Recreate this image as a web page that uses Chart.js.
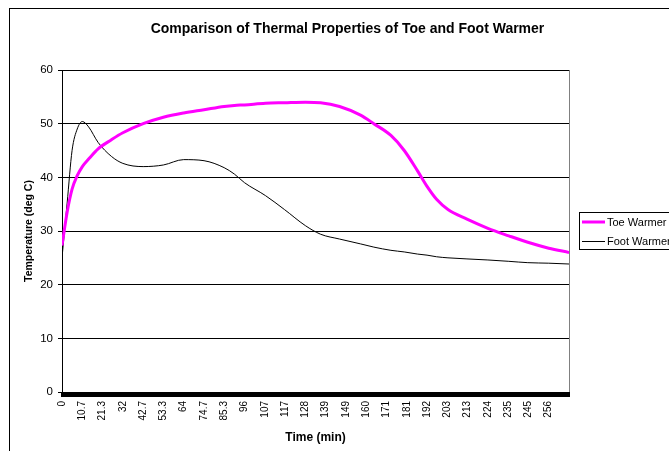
<!DOCTYPE html>
<html>
<head>
<meta charset="utf-8">
<script src="https://cdn.jsdelivr.net/npm/chart.js@4.4.1/dist/chart.umd.min.js"></script>
<style>
  html, body { margin: 0; padding: 0; background: #fff; overflow: hidden; width: 669px; height: 451px; }
  canvas { display: block; }
</style>
</head>
<body>
<canvas id="chart" width="695" height="451" style="width:695px;height:451px"></canvas>
<script>
/* ===== data ===== */
const timeMin = [0, 2.7, 5.3, 8, 10.7, 14, 19, 26, 32, 42.7, 53.3, 64, 74.7, 85.3, 90.7, 96, 107, 117, 128, 136,
    146, 157, 164, 173, 180, 187, 192, 197, 203, 213, 224, 235, 245, 256, 266.7];
const toeWarmer = [27.3, 33.5, 37.8, 40.3, 42.0, 43.4, 45.3, 47.0, 48.3, 50.0, 51.2, 52.0, 52.6, 53.2, 53.4, 53.5, 53.8, 53.9, 54.0, 53.9,
    53.2, 51.6, 50.0, 47.8, 45.0, 41.2, 38.3, 35.9, 34.0, 32.2, 30.5, 29.1, 27.9, 26.8, 26.0];
const footWarmer = [25.0, 35.2, 45.0, 49.0, 50.4, 49.4, 46.5, 43.9, 42.6, 42.0, 42.3, 43.3, 43.1, 41.8, 40.6, 39.0, 36.6, 34.0, 31.0, 29.4,
    28.5, 27.6, 27.0, 26.4, 26.1, 25.7, 25.5, 25.2, 25.0, 24.8, 24.6, 24.35, 24.1, 24.0, 23.85];
const seriesNames = ['Toe Warmer', 'Foot Warmer'];
const seriesColors = ['#ff00ff', '#000000'];
const yTicks = [0, 10, 20, 30, 40, 50, 60];

const sampleStep = 2 / 3;      // minutes between logged samples (category ticks)
const sampleCount = 401;
const labelEvery = 16;         // Excel shows every 16th category label
const lastLabelIndex = 384;

const FONT = "Arial, 'Liberation Sans', sans-serif";

function toPoints(ys) { return timeMin.map((t, i) => ({ x: t, y: ys[i] })); }

const chartFrame = {
    id: 'chartFrame',
    beforeDraw(chart) {
        const { ctx, chartArea: a } = chart;
        ctx.save();
        ctx.fillStyle = '#fff';
        ctx.fillRect(0, 0, chart.width, chart.height);
        ctx.strokeStyle = '#000'; ctx.lineWidth = 1;
        ctx.strokeRect(9.5, 8.5, chart.width + 20, chart.height + 20);
        ctx.strokeStyle = '#808080';
        const rx = Math.round(a.right) + 0.5;
        ctx.beginPath(); ctx.moveTo(rx, a.top); ctx.lineTo(rx, a.bottom); ctx.stroke();
        ctx.restore();
    },
    afterDraw(chart) {
        const { ctx } = chart;
        const bx = 579.5, by = 212.5;
        ctx.save();
        ctx.strokeStyle = '#000'; ctx.lineWidth = 1;
        ctx.strokeRect(bx, by, 110, 37);
        ctx.font = '11px ' + FONT;
        ctx.textBaseline = 'middle';
        ctx.fillStyle = '#000';
        chart.data.datasets.forEach((ds, i) => {
            const y = 222 + i * 19.5;
            ctx.strokeStyle = ds.borderColor; ctx.lineWidth = ds.borderWidth;
            ctx.beginPath(); ctx.moveTo(582, y); ctx.lineTo(605, y); ctx.stroke();
            ctx.fillText(ds.label, 607, y + 0.5);
        });
        ctx.restore();
    }
};

new Chart(document.getElementById('chart'), {
    type: 'line',
    data: {
        datasets: [
            { label: seriesNames[0], data: toPoints(toeWarmer), borderColor: seriesColors[0], borderWidth: 3, pointRadius: 0, cubicInterpolationMode: 'monotone', fill: false },
            { label: seriesNames[1], data: toPoints(footWarmer), borderColor: seriesColors[1], borderWidth: 1, pointRadius: 0, cubicInterpolationMode: 'monotone', fill: false }
        ]
    },
    options: {
        responsive: false, animation: false, devicePixelRatio: 1,
        layout: { padding: 0 },
        plugins: {
            legend: { display: false },
            tooltip: { enabled: false },
            title: {
                display: true, text: 'Comparison of Thermal Properties of Toe and Foot Warmer',
                color: '#000', font: { family: FONT, size: 14, weight: 'bold', lineHeight: 1.2 },
                padding: { top: 21, bottom: 32.2 }
            }
        },
        scales: {
            x: {
                type: 'linear', min: 0, max: (sampleCount - 1) * sampleStep,
                afterBuildTicks: (scale) => {
                    const ticks = [];
                    for (let i = 0; i < sampleCount; i++) ticks.push({ value: i * sampleStep });
                    scale.ticks = ticks;
                },
                afterFit: (scale) => { scale.height = 59; },
                ticks: {
                    autoSkip: false, maxRotation: 90, minRotation: 90, padding: 4,
                    color: '#000', font: { family: FONT, size: 10 },
                    callback: (v, i) => (i % labelEvery === 0 && i <= lastLabelIndex) ? String(Number(v.toPrecision(3))) : ''
                },
                grid: { drawOnChartArea: false, drawTicks: true, tickLength: 5, color: '#000', lineWidth: 2 },
                border: { color: '#000', width: 1 },
                title: { display: true, text: 'Time (min)', color: '#000', font: { family: FONT, size: 12, weight: 'bold', lineHeight: 1.2 }, padding: { top: 0, bottom: 6 } }
            },
            y: {
                min: 0, max: 60,
                afterBuildTicks: (scale) => { scale.ticks = yTicks.map(v => ({ value: v })); },
                afterFit: (scale) => { scale.width = 62; },
                ticks: { color: '#000', padding: 5, font: { family: FONT, size: 11.5 } },
                grid: { color: '#000', tickLength: 4 },
                border: { color: '#000', width: 1 },
                title: { display: true, text: 'Temperature (deg C)', color: '#000', font: { family: FONT, size: 10.5, weight: 'bold', lineHeight: 1.2 }, padding: { top: 23, bottom: 0 } }
            },
            // empty right-hand box that keeps room for the legend
            legendSpace: {
                type: 'linear', position: 'right', min: 0, max: 1,
                afterFit: (scale) => { scale.width = 126; },
                ticks: { display: false },
                grid: { display: false },
                border: { display: false }
            }
        }
    },
    plugins: [chartFrame]
});
</script>
</body>
</html>
